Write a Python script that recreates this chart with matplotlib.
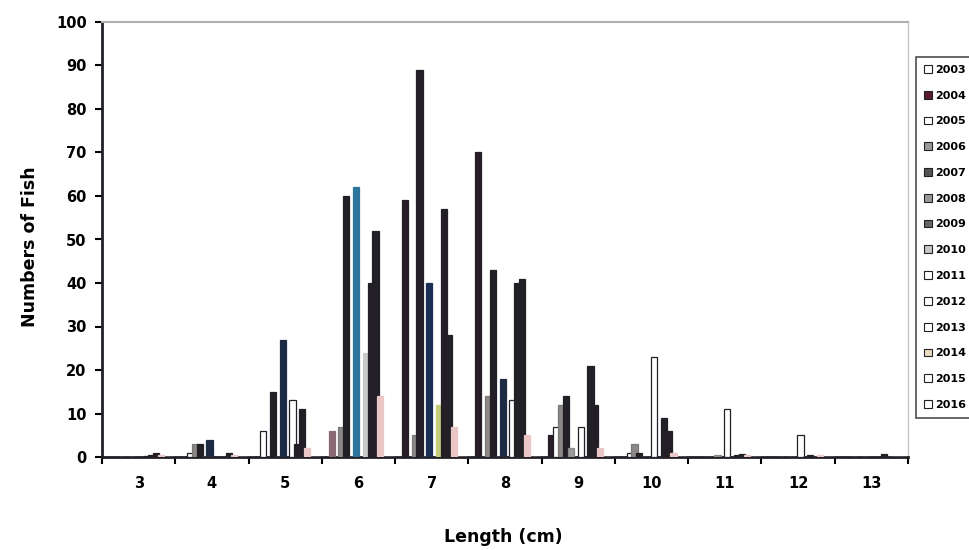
import matplotlib
matplotlib.use("Agg")
import matplotlib.pyplot as plt
import numpy as np
from matplotlib.patches import Patch

lengths = ["3", "4", "5", "6", "7", "8", "9", "10", "11", "12", "13"]
years = ["2003", "2004", "2005", "2006", "2007", "2008", "2009",
         "2010", "2011", "2012", "2013", "2014", "2015", "2016"]

y2003 = [0, 0, 0, 0, 0, 0, 0, 0, 0, 0, 0]
y2004 = [0, 0, 0, 6, 59, 70, 5, 0, 0, 0, 0]
y2005 = [0, 1, 6, 0, 0, 0, 7, 1, 0, 0, 0]
y2006 = [0, 3, 0, 7, 5, 14, 12, 3, 0, 0, 0]
y2007 = [0, 3, 15, 60, 89, 43, 14, 1, 0, 0, 0]
y2008 = [0, 0, 0, 0, 0, 0, 2, 0, 0.5, 0, 0]
y2009 = [0, 4, 27, 62, 40, 18, 0, 0, 0, 0, 0]
y2010 = [0, 0, 0, 0, 0, 0, 7, 23, 11, 5, 0]
y2011 = [0.3, 0, 13, 24, 12, 13, 0, 0, 0, 0, 0]
y2012 = [0.5, 0, 3, 40, 57, 40, 21, 9, 0.5, 0.5, 0.7]
y2013 = [1, 1, 11, 52, 28, 41, 12, 6, 0.7, 0, 0]
y2014 = [0.5, 0.5, 2, 14, 7, 5, 2, 1, 0.5, 0.5, 0]
y2015 = [0, 0, 0, 0, 0, 0, 0, 0, 0, 0, 0]
y2016 = [0, 0, 0, 0, 0, 0, 0, 0, 0, 0, 0]

series = [y2003, y2004, y2005, y2006, y2007, y2008, y2009,
          y2010, y2011, y2012, y2013, y2014, y2015, y2016]

DARK = "#221f27"
face = ["white", "#2a1d27", "white", "#8c8888", DARK, "#9a9a9a", "#1c2a44",
        "white", "white", DARK, DARK, "#eac6c6", "#eeeeee", "#f2f2f2"]
edge = [DARK, DARK, DARK, "#7a7878", DARK, "#8a8a8a", "#1c2a44",
        DARK, DARK, DARK, DARK, "#eac6c6", "#dddddd", "#dddddd"]
# a few individual bars printed in other colours in the source
bar_colour = {(1, 3): "#8a6a74", (6, 3): "#2a7599", (6, 4): "#1a2f55",
              (8, 4): "#c5cc7a", (8, 3): "#c8c8c8"}
leg_face = ["white", "#5a1a30", "white", "#9a9a9a", "#555555", "#999999", "#666666",
            "#c8c8c8", "white", "white", "white", "#e8dcc0", "white", "white"]

fig = plt.figure(figsize=(9.69, 5.5), dpi=100)
ax = fig.add_axes([102/969, 1-457/550, (908-102)/969, (457-22)/550])

x = np.arange(len(lengths))
n = len(series)
w = 1.0/15
for i, vals in enumerate(series):
    fc = [bar_colour.get((i, k), face[i]) for k in range(len(vals))]
    ec = [bar_colour.get((i, k), edge[i]) for k in range(len(vals))]
    ax.bar(x + (i - (n-1)/2)*w, vals, width=w*1.25, color=fc,
           edgecolor=ec, linewidth=0.9, zorder=3)

ax.set_xlim(-0.5, len(lengths)-0.5)
ax.set_ylim(0, 100)
ax.set_yticks(np.arange(0, 101, 10))
ax.set_xticks(x)
ax.set_xticklabels(lengths)
ax.set_xticks(np.arange(-0.5, len(lengths), 1), minor=True)
ax.tick_params(axis="x", which="major", length=0, pad=14)
ax.tick_params(axis="x", which="minor", length=5, width=1.5, direction="out")
ax.tick_params(axis="y", length=5, width=1.5, direction="out", pad=6)
for lab in ax.get_xticklabels() + ax.get_yticklabels():
    lab.set_fontweight("bold")
    lab.set_fontsize(10.5)

ax.spines["left"].set_linewidth(2)
ax.spines["bottom"].set_linewidth(2)
ax.spines["left"].set_color(DARK)
ax.spines["bottom"].set_color(DARK)
ax.spines["top"].set_color("#b0b0b0")
ax.spines["right"].set_color("#c8c8c8")
ax.spines["top"].set_linewidth(1.5)
ax.spines["right"].set_linewidth(1.0)

fig.text(30/969, 1-247/550, "Numbers of Fish", rotation=90, ha="center", va="center",
         fontsize=12.5, fontweight="bold")
fig.text(503/969, 1-537/550, "Length (cm)", ha="center", va="center",
         fontsize=12.5, fontweight="bold")

handles = [Patch(facecolor=leg_face[i], edgecolor=DARK, linewidth=0.8) for i in range(n)]
leg = fig.legend(handles, years, loc="upper left",
                 bbox_to_anchor=(916/969, 1-57/550), frameon=True,
                 fontsize=8, handlelength=0.7, handleheight=0.7,
                 handletextpad=0.3, labelspacing=1.42, borderpad=0.7,
                 fancybox=False, borderaxespad=0)
leg.get_frame().set_edgecolor(DARK)
leg.get_frame().set_linewidth(1.2)
for t in leg.get_texts():
    t.set_fontweight("bold")

fig.savefig("out.png", dpi=100)
